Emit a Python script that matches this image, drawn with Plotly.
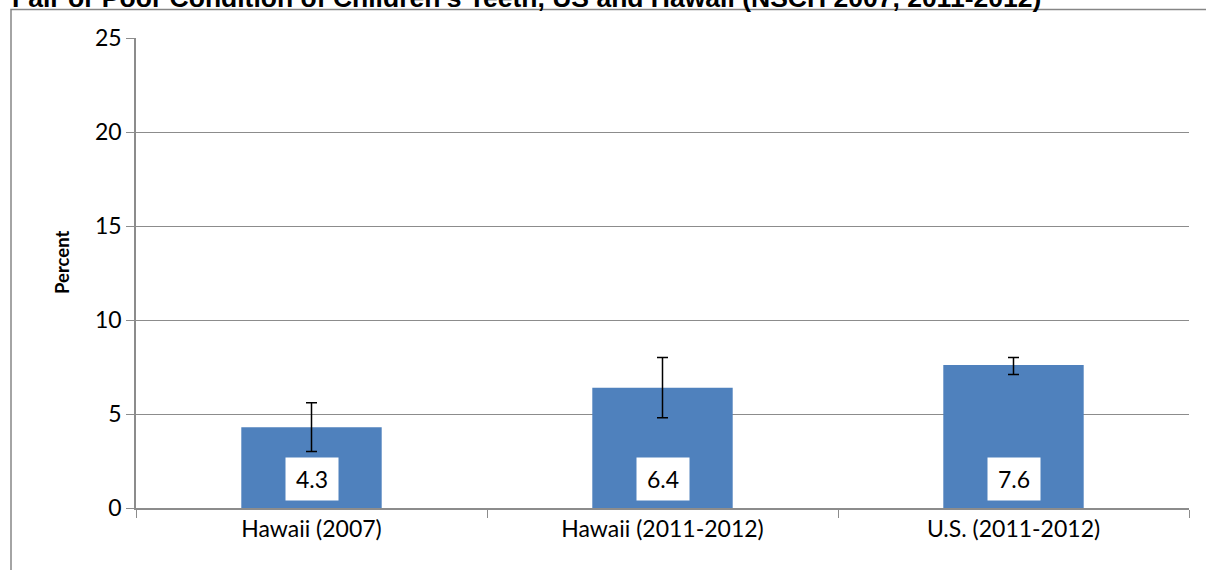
import plotly.graph_objects as go

categories = ["Hawaii (2007)", "Hawaii (2011-2012)", "U.S. (2011-2012)"]
values = [4.3, 6.4, 7.6]
ci_low = [3.0, 4.8, 7.1]
ci_high = [5.6, 8.0, 8.0]
y_ticks = [0, 5, 10, 15, 20, 25]
title_text = "Fair or Poor Condition of Children's Teeth, US and Hawaii (NSCH 2007, 2011-2012)"
y_title = "Percent"

W, H = 1206, 570
L, R, T, B = 136, 17, 38, 62
pw, ph = W - L - R, H - T - B
FONT = "Lato"
GRID = "#8c8c8c"

err_plus = [h - v for h, v in zip(ci_high, values)]
err_minus = [v - l for l, v in zip(ci_low, values)]

fig = go.Figure()
fig.add_trace(go.Bar(
    x=categories, y=values, width=0.4,
    marker=dict(color="#4F81BD", line=dict(width=0)),
    error_y=dict(type="data", symmetric=False, array=err_plus, arrayminus=err_minus,
                 color="black", thickness=1.5, width=5.5),
    showlegend=False,
))

for c, v in zip(categories, values):
    fig.add_annotation(x=c, y=1.55, xref="x", yref="y", text=f"{v:.1f}",
                       showarrow=False, bgcolor="white", width=50, height=40,
                       font=dict(family=FONT, size=23, color="black"))

# cropped title at top
fig.add_annotation(x=(10 - L) / pw, y=(H - B - 15) / ph, xref="paper", yref="paper",
                   xanchor="left", yanchor="bottom", text=f"<b>{title_text}</b>",
                   showarrow=False,
                   font=dict(family="Liberation Sans", size=26.5, color="black"))

# y-axis title
fig.add_annotation(x=(62 - L) / pw, y=(H - B - 263) / ph, xref="paper", yref="paper",
                   xanchor="center", yanchor="middle", text=f"<b>{y_title}</b>",
                   textangle=-90, showarrow=False,
                   font=dict(family=FONT, size=18.5, color="black"))

# outer chart border
fig.add_shape(type="rect", xref="paper", yref="paper",
              x0=(11 - L) / pw, x1=(W + 20 - L) / pw,
              y0=-(B + 20) / ph, y1=(H - B - 9.5) / ph,
              line=dict(color="#868686", width=1.5), fillcolor="rgba(0,0,0,0)", layer="below")

fig.update_layout(
    width=W, height=H,
    margin=dict(l=L, r=R, t=T, b=B, autoexpand=False),
    paper_bgcolor="white", plot_bgcolor="white",
    font=dict(family=FONT, size=23, color="black"),
)
fig.update_yaxes(range=[0, 25], tickvals=y_ticks, showgrid=True, gridcolor=GRID, gridwidth=1,
                 showline=True, linecolor=GRID, linewidth=1.5, ticks="outside", ticklen=8,
                 tickcolor=GRID, zeroline=False,
                 tickfont=dict(family=FONT, size=23))
fig.update_xaxes(showline=True, linecolor=GRID, linewidth=1.5, ticks="outside", ticklen=8,
                 tickcolor=GRID, tickson="boundaries", showgrid=False,
                 tickfont=dict(family=FONT, size=23))

fig.write_html("out.html", config={"displayModeBar": False},
               post_script="document.body.style.margin='0';document.body.style.padding='0';")
